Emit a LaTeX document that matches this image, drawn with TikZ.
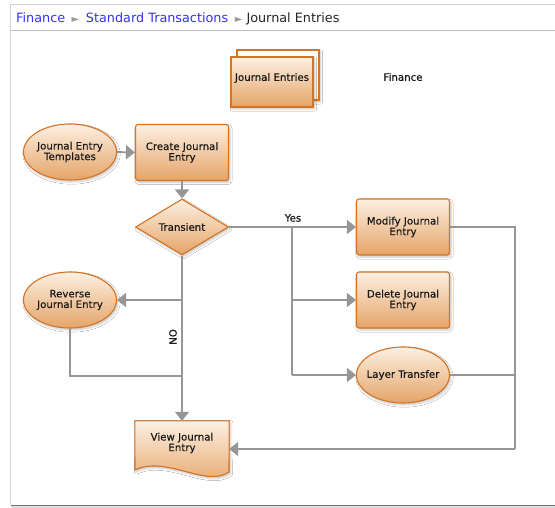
\documentclass[tikz,border=0pt]{standalone}
\usepackage{fontspec}
\setmainfont{DejaVu Sans}
\newfontfamily\jefont[FakeBold=0.4]{DejaVu Sans}
\usetikzlibrary{arrows.meta,shapes.geometric,shadows.blur}

\definecolor{jeline}{RGB}{212,116,36}
\definecolor{jetop}{RGB}{253,240,226}
\definecolor{jebot}{RGB}{228,164,104}
\definecolor{flowgray}{RGB}{150,150,150}
\definecolor{crumbblue}{RGB}{52,52,232}
\definecolor{textdark}{RGB}{25,25,25}

\tikzset{
	shd/.style = {blur shadow = {shadow xshift = 1.5pt,
								 shadow yshift = -2pt,
								 shadow opacity = 22,
								 shadow blur steps = 5}},
	jetext/.style = {text = textdark,
					 font = \jefont\fontsize{10.2}{10.6}\selectfont},
	jebox/.style = {draw = jeline, line width = 1.1pt,
					top color = jetop, bottom color = jebot,
					rounded corners = 2.5pt, shd,
					minimum width = 93pt, minimum height = 56pt,
					align = center, jetext},
	jeoval/.style = {jebox, shape = ellipse, inner sep = 0pt},
	jedec/.style = {jebox, shape = diamond, aspect = 1.68,
					inner sep = 0pt, rounded corners = 0pt},
	flow/.style = {draw = flowgray, line width = 1.8pt,
				   -{Triangle[width = 14pt, length = 9pt]}},
	wire/.style = {draw = flowgray, line width = 1.8pt}
}

\begin{document}
\begin{tikzpicture}[x = 1pt, y = -1pt]

	\useasboundingbox (0,0) rectangle (555,508);
	\fill[white] (0,0) rectangle (555,508);

	% page frame
	\draw[black!18, line width = 1pt] (10.5,505) -- (10.5,5) -- (555,5);
	\draw[black!25, line width = 1pt] (10.5,31) -- (555,31);
	\fill[black!12] (11,505) rectangle (555,508);
	\draw[black!55, line width = 1pt] (10.5,505) -- (555,505);

	% breadcrumb
	\draw (16,23) node[anchor = base west,
					   inner sep = 0pt,
					   font = \fontsize{12.8}{14}\selectfont] (crumbs)
		{\textcolor{crumbblue}{Finance}\hspace{2.5pt} \textcolor{black!40}{\fontsize{10}{10}\selectfont ►}\hspace{2.5pt}
		 \textcolor{crumbblue}{Standard Transactions}\hspace{2.5pt} \textcolor{black!40}{\fontsize{10}{10}\selectfont ►}
		 \textcolor{black!85}{Journal Entries}};

	% header
	\draw (278,75) node[jebox,
						rounded corners = 0pt,
						top color = white, bottom color = jetop,
						minimum width = 82pt,
						minimum height = 50pt] (jeback) {};
	\draw (272,82) node[jebox,
						rounded corners = 0pt,
						minimum width = 82pt,
						minimum height = 50pt,
						text depth = 10pt] (jefront) {Journal Entries};
	\draw (403,77) node[jetext] (fin) {Finance};

	% process nodes
	\draw (70,152) node[jeoval] (templates) {Journal Entry\\Templates};
	\draw (182,152.5) node[jebox] (create) {Create Journal\\Entry};
	\draw (182,227) node[jedec] (transient) {Transient};
	\draw (403,227) node[jebox] (modify) {Modify Journal\\Entry};
	\draw (403,300) node[jebox] (delete) {Delete Journal\\Entry};
	\draw (403,375) node[jeoval,
						 inner xsep = -14pt] (layer) {Layer Transfer};
	\draw (70,300) node[jeoval] (reverse) {Reverse\\Journal Entry};

	% document shape
	\draw (182,446) node[minimum width = 94pt,
						 minimum height = 50pt,
						 inner sep = 0pt] (view) {};
	\filldraw[draw = jeline, line width = 1.1pt,
			  top color = jetop, bottom color = jebot, shd]
		(view.north west) -- (view.north east) -- (229,472)
		.. controls (206,488) and (166,455) .. (135,470) -- cycle;
	\draw (182,443) node[align = center, jetext] (viewtext)
		{View Journal\\Entry};

	% connectors
	\coordinate (yes) at (292,227);
	\coordinate (merge) at (182,376);
	\coordinate (ret) at (515,449);

	\draw[flow] (templates.east) -- (create.west);
	\draw[flow] (create.south) -- (transient.north);
	\draw[flow] (transient.east) -- (modify.west);
	\draw[wire] (yes) -- (yes |- layer);
	\draw[flow] (yes |- delete) -- (delete.west);
	\draw[flow] (yes |- layer) -- (layer.west);
	\draw[flow] (transient.south) -- (view.north);
	\draw[flow] (transient.south |- reverse) -- (reverse.east);
	\draw[wire] (reverse.south) |- (merge);
	\draw[wire] (modify.east) -| (ret);
	\draw[wire] (layer.east) -- (layer.east -| ret);
	\draw[flow] (ret) -- (view.east |- ret);

	\draw (293,218) node[jetext] (yeslabel) {Yes};
	\draw (173,337) node[rotate = 90, jetext] (nolabel) {NO};

\end{tikzpicture}
\end{document}
